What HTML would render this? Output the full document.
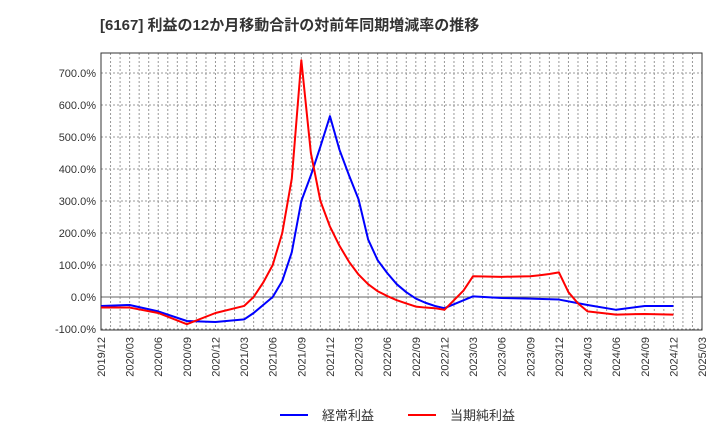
<!DOCTYPE html>
<html><head><meta charset="utf-8"><style>
body{margin:0;background:#fff;font-family:"Liberation Sans","Noto Sans CJK JP",sans-serif;}
</style></head><body>
<svg width="720" height="440" xmlns="http://www.w3.org/2000/svg" font-family="Liberation Sans, Noto Sans CJK JP, sans-serif">
<text x="100" y="30" font-size="15" font-weight="bold" fill="#333">[6167]  利益の12か月移動合計の対前年同期増減率の推移</text>
<g id="grid"></g><g id="axes"></g><g id="series"></g>
<g>
<line x1="280" y1="415" x2="308" y2="415" stroke="#0000ff" stroke-width="2"/>
<text x="322" y="420" font-size="13" fill="#333">経常利益</text>
<line x1="408" y1="415" x2="436" y2="415" stroke="#ff0000" stroke-width="2"/>
<text x="450" y="420" font-size="13" fill="#333">当期純利益</text>
</g>
</svg>
<script>
const xLabels=["2019/12","2020/03","2020/06","2020/09","2020/12","2021/03","2021/06","2021/09","2021/12","2022/03","2022/06","2022/09","2022/12","2023/03","2023/06","2023/09","2023/12","2024/03","2024/06","2024/09","2024/12","2025/03"];
const yTicks=[-100,0,100,200,300,400,500,600,700];
const blueMonths=[0,3,6,9,12,15,16,17,18,19,20,21,22,23,24,25,26,27,28,29,30,31,32,33,34,35,36,39,42,45,48,51,54,57,60];
const blueVals=[-28,-25,-45,-75,-78,-70,-50,-25,0,50,140,300,380,470,565,460,380,305,180,115,75,40,15,-5,-18,-28,-35,2,-3,-5,-8,-25,-40,-28,-28];
const redMonths=[0,3,6,9,12,15,16,17,18,19,20,21,22,23,24,25,26,27,28,29,30,31,32,33,34,35,36,37,38,39,42,45,46,47,48,49,50,51,54,57,60];
const redVals=[-33,-33,-50,-85,-50,-28,0,45,100,200,370,740,450,300,220,160,110,70,40,18,3,-10,-20,-30,-33,-35,-40,-10,20,65,63,65,68,72,77,15,-20,-45,-55,-53,-55];
const L=101,R=702,T=53,B=330,NS="http://www.w3.org/2000/svg";
const xs=m=>L+m*(R-L)/63;
const ys=v=>297-v*0.32;
function mk(tag,attrs,parent){const e=document.createElementNS(NS,tag);for(const k in attrs)e.setAttribute(k,attrs[k]);document.getElementById(parent).appendChild(e);return e;}
for(let m=1;m<63;m++){const l=mk('line',{x1:xs(m),x2:xs(m),y1:T,y2:B,stroke:'#999','stroke-dasharray':'2,2','stroke-width':1},'grid');

}
yTicks.forEach(v=>{const l=mk('line',{x1:L,x2:R,y1:ys(v),y2:ys(v),stroke:v===0?'#666':'#999','stroke-dasharray':v===0?'':'2,2','stroke-width':1},'grid');


const t=mk('text',{x:L-5,y:ys(v)+4,'text-anchor':'end','font-size':11,fill:'#333'},'axes');t.textContent=v.toFixed(1)+'%';

});
const fr=mk('rect',{x:L,y:T,width:R-L,height:B-T,fill:'none',stroke:'#333','stroke-width':1},'axes');


xLabels.forEach((s,i)=>{const x=xs(i*3);const t=mk('text',{transform:`translate(${x+4},337) rotate(-90)`,'text-anchor':'end','font-size':11,fill:'#333'},'axes');t.textContent=s;

});
function line(ms,vs,c,name){const p=mk('polyline',{points:ms.map((m,i)=>xs(m)+','+ys(vs[i])).join(' '),fill:'none',stroke:c,'stroke-width':2,'stroke-linejoin':'round'},'series');

}
line(blueMonths,blueVals,'#0000ff','series-keijo-rieki');
line(redMonths,redVals,'#ff0000','series-touki-junrieki');
</script>
</body></html>
